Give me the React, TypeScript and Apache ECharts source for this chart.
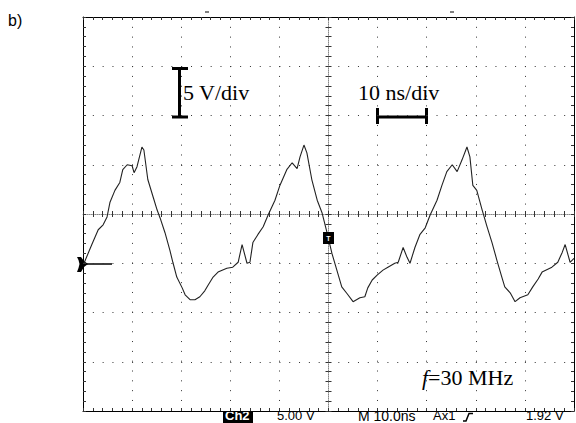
import React, { useEffect, useRef } from "react";
import * as echarts from "echarts";

// Time axis (ns), 10 ns/div, 10 divisions
const timeRange = [0, 100];
const timeInterval = 10;
// Voltage axis (V), 5 V/div, 8 divisions
const voltRange = [-20, 20];
const voltInterval = 5;

// Oscilloscope trace
const timeNs = [
  0.2, 1.8, 3.1, 4.1, 4.9, 5.5, 6.5, 7.5, 8.1, 9.0, 10.0, 10.4, 11.0, 12.0, 12.4, 13.2, 14.3, 15.1, 15.7, 16.7,
  17.7, 18.3, 19.1, 20.2, 20.8, 21.8, 22.8, 23.8, 24.8, 25.5, 26.5, 27.5, 29.3, 30.5, 31.6, 32.4, 33.4, 34.0, 34.6, 35.6,
  36.7, 37.7, 39.1, 40.1, 41.5, 42.6, 43.6, 44.2, 45.0, 45.6, 46.6, 47.7, 48.7, 49.7, 50.7, 51.7, 52.7, 53.8, 55.0, 56.4,
  57.4, 58.0, 58.9, 59.9, 61.1, 62.1, 63.5, 64.2, 65.2, 66.0, 66.6, 67.6, 68.6, 69.7, 70.7, 72.1, 73.1, 74.1, 75.2, 76.2,
  77.2, 78.2, 78.8, 79.4, 80.2, 81.3, 82.3, 83.3, 84.3, 85.3, 85.9, 87.0, 88.0, 89.0, 90.6, 91.6, 92.7, 93.5, 95.5, 96.7,
  97.6, 98.2, 99.2, 100.0,
];
const voltV = [
  -5.0, -3.1, -1.6, -1.1, -0.3, 1.2, 2.4, 3.2, 4.5, 5.0, 4.9, 4.2, 4.8, 6.8, 6.5, 3.5, 1.7, 0.4, -0.4, -1.9,
  -3.7, -4.9, -6.4, -7.5, -8.2, -8.7, -8.7, -8.4, -7.8, -7.2, -6.4, -5.9, -5.5, -5.4, -4.9, -3.1, -5.0, -4.9, -2.9, -2.1,
  -1.3, -0.1, 1.4, 2.9, 4.5, 5.2, 4.6, 5.8, 7.0, 6.2, 3.5, 1.4, 0.1, -1.9, -4.0, -5.7, -7.4, -8.1, -8.9, -8.5,
  -8.4, -7.5, -6.7, -6.2, -5.7, -5.4, -5.0, -4.9, -3.4, -4.4, -5.0, -3.4, -2.1, -1.4, -0.1, 1.4, 2.9, 4.3, 5.0, 4.3,
  5.5, 6.8, 5.8, 2.9, 2.4, 0.4, -1.3, -2.9, -4.7, -6.4, -7.4, -8.0, -8.9, -8.5, -8.2, -7.4, -6.6, -5.9, -5.4, -4.9,
  -3.9, -3.1, -4.9, -4.5,
];

const panelLabel = "b)";
const voltScaleLabel = "5 V/div";
const timeScaleLabel = "10 ns/div";
const freqLabel = "=30 MHz";
const statusTexts = ["5.00 V", "M 10.0ns", "Ax1", "1.92 V"];

const SERIF = '"Liberation Serif", "Times New Roman", serif';
const SANS = '"Liberation Sans", Arial, sans-serif';

export default function App() {
  const ref = useRef<HTMLDivElement>(null);
  useEffect(() => {
    if (!ref.current) return;
    const chart = echarts.init(ref.current, undefined, { renderer: "svg" });
    const dotColor = "#333";
    const baseX = (position: string, extra: any = {}) => ({
      type: "value",
      min: timeRange[0],
      max: timeRange[1],
      interval: timeInterval,
      position,
      axisLabel: { show: false },
      axisLine: { show: true, onZero: false, lineStyle: { color: "#000", width: 1 } },
      axisTick: { show: true, inside: true, length: 3, lineStyle: { color: dotColor } },
      minorTick: { show: true, splitNumber: 5, length: 3, lineStyle: { color: dotColor } },
      splitLine: { show: false },
      ...extra,
    });
    const baseY = (position: string, extra: any = {}) => ({
      type: "value",
      min: voltRange[0],
      max: voltRange[1],
      interval: voltInterval,
      position,
      axisLabel: { show: false },
      axisLine: { show: true, onZero: false, lineStyle: { color: "#000", width: 1 } },
      axisTick: { show: true, inside: true, length: 3, lineStyle: { color: dotColor } },
      minorTick: { show: true, splitNumber: 5, length: 3, lineStyle: { color: dotColor } },
      splitLine: { show: false },
      ...extra,
    });
    const centerLine = { show: true, onZero: false, lineStyle: { color: "#888", width: 1, type: [1, 1] } };
    const gridH = 394;
    const gridW = 491;
    const statusY = 415.5;
    const statusStyle = (text: string, extra: any = {}) => ({
      text,
      font: `13px ${SANS}`,
      fill: "#000",
      verticalAlign: "middle",
      ...extra,
    });
    chart.setOption({
      animation: false,
      backgroundColor: "#fff",
      grid: { left: 83, top: 17, width: gridW, height: gridH, outerBoundsMode: "none" },
      xAxis: [
        baseX("bottom", {
          splitLine: { show: true, lineStyle: { color: dotColor, width: 1, type: [1, 8.82] } },
        }),
        baseX("top"),
        baseX("bottom", { offset: -gridH / 2, axisLine: centerLine }),
        baseX("bottom", { offset: -gridH / 2, axisLine: { show: false }, axisTick: { show: true, inside: false, length: 3, lineStyle: { color: dotColor } } }),
      ],
      yAxis: [
        baseY("left", {
          splitLine: { show: true, lineStyle: { color: dotColor, width: 1, type: [1, 8.82] } },
        }),
        baseY("right"),
        baseY("left", { offset: -gridW / 2, axisLine: centerLine }),
        baseY("left", { offset: -gridW / 2, axisLine: { show: false }, axisTick: { show: true, inside: false, length: 3, lineStyle: { color: dotColor } } }),
      ],
      series: [
        {
          type: "line",
          xAxisIndex: 0,
          yAxisIndex: 0,
          showSymbol: false,
          symbol: "none",
          lineStyle: { color: "#222", width: 1.1 },
          data: timeNs.map((t, i) => [t, voltV[i]]),
          z: 5,
        },
      ],
      graphic: [
        { type: "text", x: 8, y: 12, style: { text: panelLabel, font: `16px ${SANS}`, fill: "#000" } },
        // top small markers
        { type: "line", shape: { x1: 205, y1: 12, x2: 209, y2: 12 }, style: { stroke: "#000", lineWidth: 1 } },
        { type: "line", shape: { x1: 450, y1: 12, x2: 454, y2: 12 }, style: { stroke: "#000", lineWidth: 1 } },
        // volt scale bar
        { type: "line", shape: { x1: 179.5, y1: 68.5, x2: 179.5, y2: 117 }, style: { stroke: "#000", lineWidth: 3 } },
        { type: "line", shape: { x1: 172, y1: 68.5, x2: 188, y2: 68.5 }, style: { stroke: "#000", lineWidth: 3 } },
        { type: "line", shape: { x1: 172, y1: 117, x2: 188, y2: 117 }, style: { stroke: "#000", lineWidth: 3 } },
        { type: "text", x: 183, y: 92.6, style: { text: voltScaleLabel, font: `22px ${SERIF}`, fill: "#000", verticalAlign: "middle" } },
        // time scale bar
        { type: "line", shape: { x1: 377, y1: 117, x2: 427, y2: 117 }, style: { stroke: "#000", lineWidth: 3 } },
        { type: "line", shape: { x1: 377.5, y1: 108, x2: 377.5, y2: 124 }, style: { stroke: "#000", lineWidth: 3 } },
        { type: "line", shape: { x1: 426.5, y1: 108, x2: 426.5, y2: 124 }, style: { stroke: "#000", lineWidth: 3 } },
        { type: "text", x: 358, y: 92.6, style: { text: timeScaleLabel, font: `22px ${SERIF}`, fill: "#000", verticalAlign: "middle" } },
        // frequency
        {
          type: "text",
          x: 422,
          y: 377.6,
          style: {
            text: "{i|f}" + freqLabel,
            font: `22px ${SERIF}`,
            fill: "#000",
            verticalAlign: "middle",
            rich: { i: { font: `italic 22px ${SERIF}`, fill: "#000" } },
          },
        },
        // ground marker
        {
          type: "polygon",
          shape: { points: [[77, 257], [81, 257], [84, 261], [88, 264], [84, 267], [81, 272], [77, 272], [78.5, 268], [79.5, 264], [78.5, 260]] },
          style: { fill: "#000" },
        },
        { type: "line", shape: { x1: 87, y1: 264, x2: 112, y2: 264 }, style: { stroke: "#000", lineWidth: 1.5 } },
        // trigger marker
        { type: "rect", shape: { x: 323, y: 232, width: 11, height: 12 }, style: { fill: "#000" }, z: 10 },
        { type: "text", x: 328.5, y: 238, style: { text: "T", font: `bold 7px ${SANS}`, fill: "#fff", align: "center", verticalAlign: "middle" }, z: 11 },
        // status bar
        { type: "rect", shape: { x: 223, y: 411.5, width: 30, height: 11.5 }, style: { fill: "#000" } },
        { type: "text", x: 225, y: statusY, style: statusStyle("Ch2", { font: `bold 13px ${SANS}`, fill: "#fff" }) },
        { type: "text", x: 277, y: statusY, style: statusStyle(statusTexts[0]) },
        { type: "text", x: 358, y: statusY, style: statusStyle(statusTexts[1], { font: `14px ${SANS}` }) },
        { type: "text", x: 433, y: statusY, style: statusStyle(statusTexts[2]) },
        { type: "polyline", shape: { points: [[463, 421], [466, 421], [469, 413.5], [473, 413.5]] }, style: { stroke: "#000", lineWidth: 1.5, fill: "none" } },
        { type: "text", x: 526, y: statusY, style: statusStyle(statusTexts[3]) },
      ],
    });
    return () => chart.dispose();
  }, []);
  return <div ref={ref} style={{ position: "absolute", left: 0, top: 0, width: 576, height: 423 }} />;
}
